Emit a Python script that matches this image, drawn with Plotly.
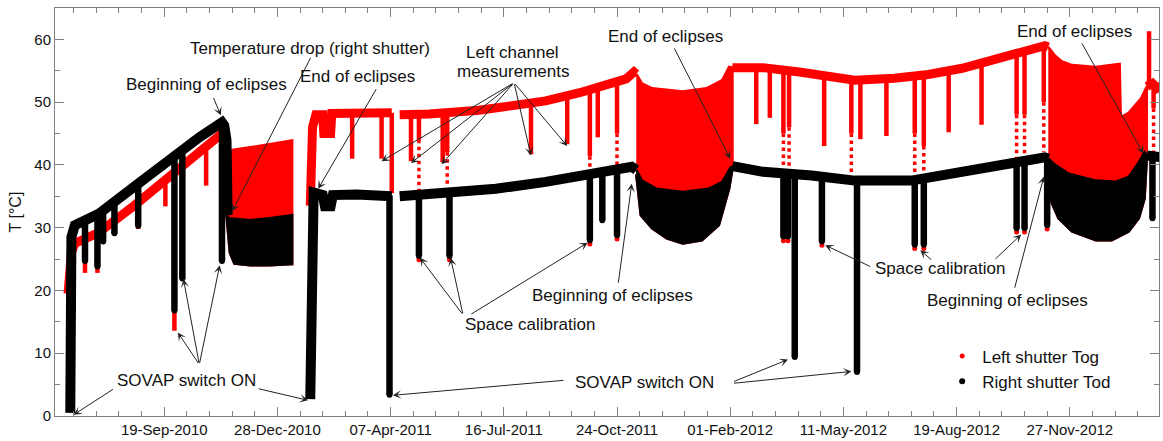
import numpy as np
import pandas as pd
import plotly.graph_objects as go

RED = "#ff0000"
BLACK = "#000000"
FONT = "Liberation Sans, Arial, Helvetica, sans-serif"

# ---------------- Right shutter Tod : daily level outside the eclipse seasons ----------------
tod_a_dates = ["2010-06-28", "2010-06-29", "2010-07-02", "2010-07-23", "2010-08-24", "2010-09-26",
               "2010-10-20", "2010-11-09", "2010-11-11", "2010-11-13", "2010-11-14"]
tod_a = [0.5, 28.5, 30.4, 32.2, 36.6, 41.3, 44.4, 46.8, 46.3, 44.0, 32.0]

tod_b_dates = ["2011-01-26", "2011-01-27", "2011-01-29", "2011-02-06", "2011-02-08", "2011-02-13",
               "2011-02-15", "2011-03-08", "2011-04-05", "2011-04-08"]
tod_b = [2.7, 33.5, 35.6, 35.2, 33.4, 33.4, 35.2, 35.3, 35.2, 35.0]

tod_c_dates = ["2011-04-15", "2011-05-23", "2011-07-09", "2011-08-22", "2011-10-06", "2011-10-26",
               "2011-11-06", "2011-11-10"]
tod_c = [35.0, 35.4, 36.2, 37.3, 38.6, 39.1, 39.7, 39.2]

tod_d_dates = ["2012-02-03", "2012-03-01", "2012-04-13", "2012-05-21", "2012-07-10", "2012-08-24",
               "2012-10-07", "2012-11-05", "2012-11-08"]
tod_d = [39.8, 38.9, 38.3, 37.5, 37.5, 39.0, 40.4, 41.2, 41.0]

tod_e_dates = ["2013-02-03", "2013-02-10", "2013-02-16"]
tod_e = [41.5, 41.3, 41.2]

# ---------------- Left shutter Tog : daily level outside the eclipse seasons ----------------
tog_a_dates = ["2010-06-26", "2010-06-29", "2010-07-02", "2010-07-23", "2010-08-24", "2010-09-26",
               "2010-10-20", "2010-11-09", "2010-11-12"]
tog_a = [19.5, 26.0, 27.5, 29.2, 33.6, 38.5, 42.2, 45.0, 44.0]

tog_b_dates = ["2011-01-26", "2011-01-28", "2011-01-31", "2011-02-06", "2011-02-07", "2011-02-13",
               "2011-02-14", "2011-04-08"]
tog_b = [33.5, 46.0, 48.0, 48.0, 45.0, 45.0, 48.2, 48.3]

tog_c_dates = ["2011-04-15", "2011-05-11", "2011-06-24", "2011-07-23", "2011-08-22", "2011-09-21",
               "2011-10-20", "2011-11-01", "2011-11-08", "2011-11-10"]
tog_c = [48.0, 48.1, 48.7, 49.4, 50.2, 51.5, 52.8, 53.7, 54.8, 54.5]

tog_d_dates = ["2012-02-03", "2012-03-01", "2012-04-02", "2012-04-28", "2012-05-21", "2012-06-25",
               "2012-07-25", "2012-08-24", "2012-09-22", "2012-10-16", "2012-11-05", "2012-11-08"]
tog_d = [55.5, 55.5, 54.8, 54.3, 53.5, 53.8, 54.4, 55.4, 56.9, 58.2, 59.0, 58.8]

tog_e_dates = ["2013-02-03", "2013-02-08", "2013-02-12", "2013-02-16"]
tog_e = [52.5, 53.0, 52.2, 52.6]

# ---------------- Eclipse seasons : daily max / min envelopes ----------------
ecl1_top_dates = ["2010-11-13", "2010-11-15", "2010-12-04", "2010-12-21", "2011-01-10"]
ecl1_tog_max = [43.5, 42.3, 42.8, 43.3, 43.9]
ecl1_tod_max = [32.0, 31.5, 31.2, 31.5, 32.0]
ecl1_bot_dates = ["2010-11-13", "2010-11-16", "2010-11-20", "2010-12-04", "2010-12-21", "2011-01-10"]
ecl1_tod_min = [32.0, 26.0, 24.3, 24.0, 24.0, 24.2]

ecl2_tog_dates = ["2011-11-10", "2011-11-15", "2011-11-24", "2011-12-21", "2012-01-11", "2012-01-25",
                  "2012-01-31", "2012-02-03"]
ecl2_tog_max = [54.5, 53.0, 52.2, 51.7, 52.2, 53.5, 55.6, 55.5]
ecl2_tod_max_dates = ["2011-11-10", "2011-11-15", "2011-11-28", "2011-12-21", "2012-01-13", "2012-01-25",
                      "2012-02-01", "2012-02-03"]
ecl2_tod_max = [39.2, 37.5, 36.2, 35.7, 36.2, 37.3, 39.5, 39.8]
ecl2_tod_min_dates = ["2011-11-10", "2011-11-14", "2011-11-24", "2011-12-07", "2011-12-21", "2012-01-07",
                      "2012-01-22", "2012-01-31", "2012-02-03"]
ecl2_tod_min = [38.5, 32.0, 29.9, 28.3, 27.5, 28.0, 30.4, 36.2, 39.4]

ecl3_tog_dates = ["2012-11-08", "2012-11-14", "2012-11-20", "2012-11-29", "2012-12-20", "2013-01-10",
                  "2013-01-11", "2013-01-18", "2013-01-29", "2013-02-03"]
ecl3_tog_max = [58.8, 57.4, 56.5, 55.9, 55.6, 56.1, 47.6, 48.3, 50.6, 52.5]
ecl3_tod_max_dates = ["2012-11-08", "2012-11-14", "2012-11-26", "2012-12-20", "2013-01-06", "2013-01-18",
                      "2013-01-27", "2013-02-01", "2013-02-03"]
ecl3_tod_max = [41.0, 40.0, 38.6, 37.5, 37.3, 38.1, 40.4, 42.0, 41.5]
ecl3_tod_min_dates = ["2012-11-08", "2012-11-11", "2012-11-17", "2012-11-29", "2012-12-20", "2013-01-03",
                      "2013-01-18", "2013-01-27", "2013-02-01", "2013-02-03"]
ecl3_tod_min = [40.5, 34.0, 31.5, 29.4, 28.0, 28.0, 29.4, 31.5, 34.6, 41.0]

# ---------------- Short excursions (switch-on, space calibration, left channel runs) ----------------
tod_drop_dates = ["2010-07-11", "2010-07-22", "2010-07-27", "2010-08-06", "2010-08-27", "2010-09-28",
                  "2010-10-05", "2010-11-09", "2011-04-06", "2011-05-02", "2011-05-29", "2011-09-30",
                  "2011-10-11", "2011-10-24", "2012-03-19", "2012-03-23", "2012-03-29", "2012-04-22",
                  "2012-05-23", "2012-07-13", "2012-07-21", "2012-10-11", "2012-10-18", "2012-11-07",
                  "2013-02-08"]
tod_drop_min = [24.7, 23.8, 27.8, 29.1, 30.3, 16.8, 21.9, 24.7, 3.4, 25.5, 25.5, 28.0,
                31.2, 28.8, 28.6, 28.6, 9.4, 27.8, 7.0, 27.3, 27.3, 29.9, 29.9, 30.4, 31.5]

tog_drop_dates = ["2010-07-11", "2010-07-22", "2010-08-27", "2010-09-20", "2010-09-28", "2010-10-26",
                  "2011-03-04", "2011-03-30", "2011-04-08", "2011-04-25", "2011-05-02", "2011-05-23",
                  "2011-05-27", "2011-08-09", "2011-09-10", "2011-09-30", "2011-10-07", "2011-10-24",
                  "2012-02-24", "2012-03-07", "2012-03-19", "2012-03-24", "2012-04-24", "2012-05-18",
                  "2012-05-26", "2012-06-18", "2012-07-13", "2012-07-21", "2012-08-12", "2012-09-10",
                  "2012-10-11", "2012-10-18", "2012-11-04", "2013-02-05", "2013-02-09"]
tog_drop_min = [22.8, 22.8, 29.8, 33.4, 13.6, 36.7,
                41.0, 41.0, 35.5, 40.6, 44.0, 40.4,
                42.0, 41.7, 43.3, 41.4, 44.4, 45.0,
                46.5, 47.5, 45.0, 46.0, 43.0, 45.0,
                44.1, 44.6, 45.0, 43.0, 45.2, 46.4,
                48.0, 48.0, 50.0, 61.3, 49.0]

# sparse samples continuing below some of the left-shutter excursions
tog_trail_dates = ["2011-05-02", "2011-05-27", "2011-09-30", "2011-10-24", "2012-03-19", "2012-03-24",
                   "2012-05-18", "2012-07-13", "2012-07-21", "2012-10-11", "2012-10-18", "2012-11-04",
                   "2013-02-09"]
tog_trail_min = [36.0, 37.0, 38.6, 39.4, 39.9, 39.4, 38.3, 38.6, 39.0, 41.0, 41.0, 42.0, 42.0]

# left-shutter minima at the space calibrations
tog_cal_dates = ["2011-05-02", "2011-05-29", "2011-09-30", "2011-10-24", "2012-03-19", "2012-03-23",
                 "2012-04-22", "2012-07-13", "2012-07-21", "2012-10-11", "2012-10-18", "2012-11-07"]
tog_cal_min = [24.9, 24.9, 27.4, 28.2, 27.9, 27.9, 27.2, 26.7, 26.7, 29.3, 29.3, 29.8]

# ---------------- Annotations ----------------
note_text = ["Temperature drop (right shutter)", "Beginning of eclipses", "End of eclipses",
             "Left channel", "measurements", "End of eclipses", "End of eclipses",
             "Space calibration", "Beginning of eclipses", "SOVAP switch ON", "SOVAP switch ON",
             "Space calibration", "Beginning of eclipses"]
note_x = ["2011-01-26", "2010-10-26", "2011-03-09", "2011-07-24", "2011-07-24", "2011-12-06",
          "2012-12-01", "2011-08-08", "2011-10-20", "2010-10-09", "2011-11-17", "2012-08-04",
          "2012-10-03"]
note_y = [58.6, 52.8, 54.1, 57.9, 54.9, 60.5, 61.3, 14.6, 19.2, 5.6, 5.4, 23.5, 18.4]

arrow_from_x = ["2011-01-27", "2010-11-01", "2011-03-26",
                "2011-07-25", "2011-07-25", "2011-07-25", "2011-07-25", "2011-07-25",
                "2011-12-13", "2012-12-07",
                "2011-06-10", "2011-06-10", "2011-06-16", "2011-10-25",
                "2010-08-06", "2010-12-10", "2010-10-20", "2010-10-20", "2010-10-20",
                "2011-09-08", "2012-02-03", "2012-02-03",
                "2012-06-05", "2012-07-29", "2012-09-21", "2012-10-09"]
arrow_from_y = [57.3, 50.9, 52.3,
                53.1, 53.1, 53.1, 53.1, 53.1,
                58.8, 59.6,
                16.1, 16.1, 16.1, 21.0,
                4.4, 4.4, 8.2, 8.2, 8.2,
                5.7, 5.4, 5.2,
                23.7, 24.7, 24.8, 20.2]
arrow_to_x = ["2010-11-18", "2010-11-08", "2011-02-02",
              "2011-03-30", "2011-04-25", "2011-05-22", "2011-08-09", "2011-09-10",
              "2012-02-01", "2013-01-31",
              "2011-05-03", "2011-05-30", "2011-09-28", "2011-11-06",
              "2010-07-01", "2011-01-24", "2010-10-01", "2010-10-06", "2010-11-07",
              "2011-04-09", "2012-03-23", "2012-05-18",
              "2012-04-25", "2012-07-18", "2012-10-15", "2012-11-04"]
arrow_to_y = [32.6, 47.9, 36.2,
              40.6, 40.3, 40.1, 41.5, 43.0,
              41.0, 41.8,
              25.2, 25.2, 27.6, 37.0,
              0.2, 2.5, 13.3, 21.8, 24.0,
              3.3, 9.0, 7.1,
              27.2, 26.4, 28.9, 38.1]


def ts(dates):
    return pd.to_datetime(pd.Series(dates)).astype("int64").to_numpy()


def joined(seg_dates, seg_vals):
    xs, ys = [], []
    for d, v in zip(seg_dates, seg_vals):
        xs += list(d) + [None]
        ys += list(v) + [None]
    return xs, ys


def level_at(seg_dates, seg_vals, dates):
    x = np.concatenate([ts(d) for d in seg_dates])
    y = np.concatenate([np.asarray(v, float) for v in seg_vals])
    order = np.argsort(x)
    return np.interp(ts(dates), x[order], y[order])


def stems(dates, top, bottom):
    xs, ys = [], []
    for d, a, b in zip(dates, top, bottom):
        xs += [d, d, None]
        ys += [a, b, None]
    return xs, ys


def band(top_dates, top_vals, bot_dates, bot_vals):
    return (list(top_dates) + list(bot_dates)[::-1],
            list(top_vals) + list(bot_vals)[::-1])


tod_segs_d = [tod_a_dates, tod_b_dates, tod_c_dates, tod_d_dates, tod_e_dates]
tod_segs_v = [tod_a, tod_b, tod_c, tod_d, tod_e]
tog_segs_d = [tog_a_dates, tog_b_dates, tog_c_dates, tog_d_dates, tog_e_dates]
tog_segs_v = [tog_a, tog_b, tog_c, tog_d, tog_e]

fig = go.Figure()

# ---- left shutter (red) : drawn first, right shutter overlays it ----
for (td, tv, bd, bv) in [
    (ecl1_top_dates, ecl1_tog_max, ecl1_bot_dates, ecl1_tod_min),
    (ecl2_tog_dates, ecl2_tog_max, ecl2_tod_min_dates, ecl2_tod_min),
    (ecl3_tog_dates, ecl3_tog_max, ecl3_tod_min_dates, ecl3_tod_min),
]:
    bx, by = band(td, tv, bd, bv)
    fig.add_trace(go.Scatter(x=bx, y=by, fill="toself", fillcolor=RED, mode="lines",
                             line=dict(color=RED, width=2.5), showlegend=False, hoverinfo="skip"))

tog_base = level_at(tog_segs_d, tog_segs_v, tog_drop_dates)
sx, sy = stems(tog_drop_dates, tog_base, tog_drop_min)
fig.add_trace(go.Scatter(x=sx, y=sy, mode="lines", line=dict(color=RED, width=4.5),
                         showlegend=False, hoverinfo="skip"))

trail_top = [tog_drop_min[tog_drop_dates.index(d)] for d in tog_trail_dates]
sx, sy = stems(tog_trail_dates, trail_top, tog_trail_min)
fig.add_trace(go.Scatter(x=sx, y=sy, mode="lines", line=dict(color=RED, width=3.5, dash="dot"),
                         showlegend=False, hoverinfo="skip"))

lx, ly = joined(tog_segs_d, tog_segs_v)
fig.add_trace(go.Scatter(x=lx, y=ly, mode="lines", line=dict(color=RED, width=9),
                         showlegend=False, hoverinfo="skip", connectgaps=False))

fig.add_trace(go.Scatter(x=tog_cal_dates, y=tog_cal_min, mode="markers", name="Left shutter Tog",
                         marker=dict(color=RED, size=5), hoverinfo="skip"))

# ---- right shutter (black) ----
for (td, tv, bd, bv) in [
    (ecl1_top_dates, ecl1_tod_max, ecl1_bot_dates, ecl1_tod_min),
    (ecl2_tod_max_dates, ecl2_tod_max, ecl2_tod_min_dates, ecl2_tod_min),
    (ecl3_tod_max_dates, ecl3_tod_max, ecl3_tod_min_dates, ecl3_tod_min),
]:
    bx, by = band(td, tv, bd, bv)
    fig.add_trace(go.Scatter(x=bx, y=by, fill="toself", fillcolor=BLACK, mode="lines",
                             line=dict(color=BLACK, width=2.5), showlegend=False, hoverinfo="skip"))

tod_base = level_at(tod_segs_d, tod_segs_v, tod_drop_dates)
sx, sy = stems(tod_drop_dates, tod_base, tod_drop_min)
fig.add_trace(go.Scatter(x=sx, y=sy, mode="lines", line=dict(color=BLACK, width=6.5),
                         showlegend=False, hoverinfo="skip"))

lx, ly = joined(tod_segs_d, tod_segs_v)
fig.add_trace(go.Scatter(x=lx, y=ly, mode="lines", line=dict(color=BLACK, width=10),
                         showlegend=False, hoverinfo="skip", connectgaps=False))

fig.add_trace(go.Scatter(x=tod_drop_dates, y=tod_drop_min, mode="markers", name="Right shutter Tod",
                         marker=dict(color=BLACK, size=6), hoverinfo="skip"))

# ---- annotations ----
annotations = []
for t, x, y in zip(note_text, note_x, note_y):
    annotations.append(dict(text=t, x=x, y=y, xref="x", yref="y", showarrow=False,
                            xanchor="center", yanchor="middle",
                            font=dict(family=FONT, size=17, color="#111")))
for x0, y0, x1, y1 in zip(arrow_from_x, arrow_from_y, arrow_to_x, arrow_to_y):
    annotations.append(dict(text="", x=x1, y=y1, ax=x0, ay=y0, xref="x", yref="y",
                            axref="x", ayref="y", showarrow=True, arrowhead=3, arrowsize=1.4,
                            arrowwidth=1, arrowcolor="#222", standoff=0, startstandoff=0))

axis_common = dict(showline=True, linecolor="#808080", linewidth=1, mirror="allticks",
                   ticks="inside", ticklen=9, tickcolor="#808080", tickwidth=1,
                   showgrid=False, zeroline=False,
                   tickfont=dict(family=FONT, size=15, color="#111"))

fig.update_layout(
    width=1163, height=441,
    margin=dict(l=55, r=3, t=8, b=22),
    paper_bgcolor="white", plot_bgcolor="white",
    font=dict(family=FONT, size=15, color="#111"),
    annotations=annotations,
    legend=dict(x=0.8036, y=0.19, xanchor="left", yanchor="top", bgcolor="rgba(0,0,0,0)",
                font=dict(family=FONT, size=17, color="#111"), borderwidth=0),
    xaxis=dict(type="date", range=["2010-06-14 12:00", "2013-02-13 19:00"],
               tick0="2010-09-19", dtick=100 * 86400000, tickformat="%d-%b-%Y",
               minor=dict(tick0="2010-09-19", dtick=20 * 86400000, ticks="inside", ticklen=5,
                          tickcolor="#808080"),
               **axis_common),
    yaxis=dict(range=[0, 65], dtick=10, tick0=0,
               minor=dict(dtick=5, ticks="inside", ticklen=5, tickcolor="#808080"),
               title=dict(text="T [°C]", standoff=8, font=dict(family=FONT, size=16, color="#111")),
               **axis_common),
)

fig.write_html("out.html")
